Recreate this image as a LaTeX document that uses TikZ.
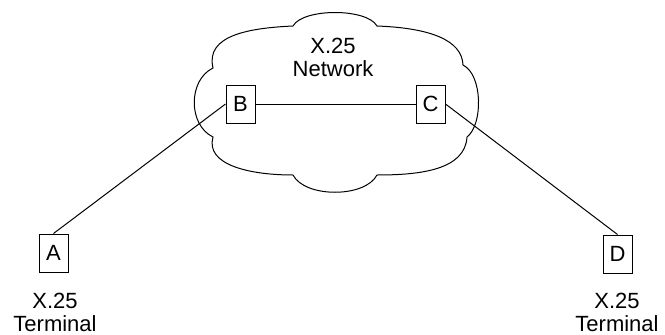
\documentclass[tikz,border=0pt]{standalone}
\usepackage{fontspec}
\setmainfont{Liberation Sans}
\begin{document}
\begin{tikzpicture}[x=1pt,y=-1pt,
  lw/.style={line width=1pt},
  station/.style={draw,lw,fill=white,minimum width=29pt,minimum height=38pt,inner sep=0pt,font=\fontsize{22}{24}\selectfont},
  lbl/.style={align=center,inner sep=0pt,font=\fontsize{22}{23}\selectfont}]
\useasboundingbox (0,0) rectangle (665,335);
% cloud
\draw[lw] (293,26) .. controls (303,8) and (367,8) .. (377,26)
  .. controls (430,28) and (462,40) .. (463,65)
  .. controls (483,75) and (483,125) .. (467,137)
  .. controls (465,170) and (420,175) .. (377,175)
  .. controls (365,198) and (305,198) .. (293,175)
  .. controls (250,175) and (205,165) .. (213,137)
  .. controls (188,125) and (188,80) .. (213,68)
  .. controls (205,35) and (250,28) .. (293,26) -- cycle;
\node[lbl] (net) at (333,57) {X.25\\Network};
\node[station] (B) at (240.5,104) {B};
\node[station] (C) at (430.5,104) {C};
\node[station] (A) at (53.5,253) {A};
\node[station] (D) at (617.5,254) {D};
\node[lbl] (tA) at (55,312) {X.25\\Terminal};
\node[lbl] (tD) at (617,312) {X.25\\Terminal};
\draw[lw] (A.north) -- (B.west);
\draw[lw] (B.east) -- (C.west);
\draw[lw] (C.east) -- (D.north);
\end{tikzpicture}
\end{document}
